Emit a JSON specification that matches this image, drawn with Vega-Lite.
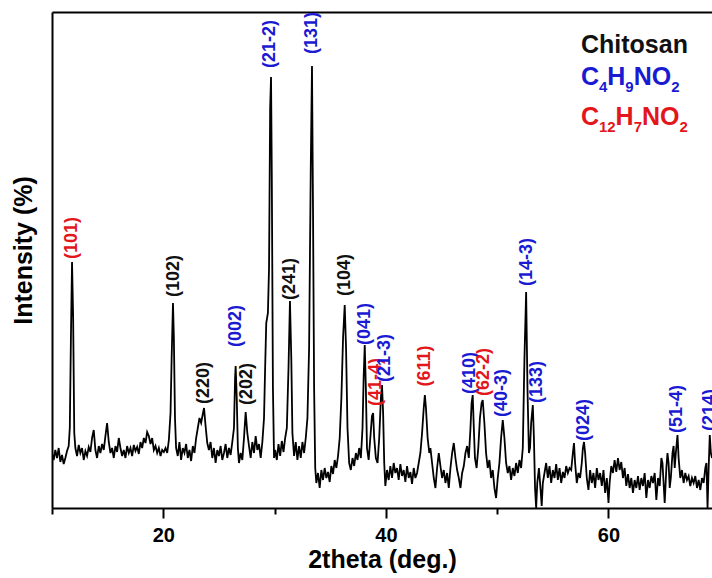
{
  "$schema": "https://vega.github.io/schema/vega-lite/v6.json",
  "width": 660,
  "height": 496,
  "autosize": {"type": "none"},
  "padding": {"left": 52, "top": 12, "right": 0, "bottom": 70},
  "background": "white",
  "config": {
    "view": {"stroke": null},
    "font": "Liberation Sans",
    "axis": {"domainColor": "black", "domainWidth": 2, "tickColor": "black", "tickWidth": 2, "labelColor": "black", "titleColor": "black", "labelFont": "Liberation Sans", "titleFont": "Liberation Sans", "labelFontWeight": "bold", "titleFontWeight": "bold", "grid": false}
  },
  "datasets": {
    "xrd": [
      {"t":10.0,"i":55},{"t":10.15,"i":48},{"t":10.3,"i":58},{"t":10.45,"i":50},{"t":10.6,"i":60},{"t":10.75,"i":46},{"t":10.9,"i":53},{"t":11.05,"i":44},{"t":11.2,"i":50},{"t":11.35,"i":57},{"t":11.5,"i":62},{"t":11.6,"i":80},{"t":11.7,"i":170},{"t":11.8,"i":246},{"t":11.9,"i":190},{"t":12.0,"i":75},{"t":12.1,"i":60},
      {"t":12.25,"i":52},{"t":12.4,"i":63},{"t":12.55,"i":55},{"t":12.7,"i":60},{"t":12.85,"i":48},{"t":13.0,"i":57},{"t":13.15,"i":52},{"t":13.3,"i":61},{"t":13.45,"i":56},{"t":13.6,"i":70},{"t":13.75,"i":78},{"t":13.9,"i":58},{"t":14.05,"i":50},{"t":14.2,"i":62},{"t":14.35,"i":55},{"t":14.5,"i":64},{"t":14.65,"i":58},{"t":14.8,"i":72},{"t":14.95,"i":85},{"t":15.1,"i":66},{"t":15.25,"i":55},{"t":15.4,"i":60},{"t":15.55,"i":50},{"t":15.7,"i":62},{"t":15.85,"i":56},{"t":16.0,"i":70},{"t":16.15,"i":60},{"t":16.3,"i":52},{"t":16.45,"i":58},{"t":16.6,"i":50},{"t":16.75,"i":62},{"t":16.9,"i":55},{"t":17.05,"i":60},{"t":17.2,"i":52},{"t":17.35,"i":63},{"t":17.5,"i":57},{"t":17.65,"i":61},{"t":17.8,"i":54},{"t":17.95,"i":66},{"t":18.1,"i":60},{"t":18.25,"i":70},{"t":18.4,"i":65},{"t":18.55,"i":76},{"t":18.7,"i":72},{"t":18.85,"i":64},{"t":19.0,"i":70},{"t":19.15,"i":58},{"t":19.3,"i":62},{"t":19.45,"i":55},{"t":19.6,"i":60},{"t":19.75,"i":52},{"t":19.9,"i":58},{"t":20.05,"i":56},{"t":20.2,"i":60},{"t":20.35,"i":55},{"t":20.5,"i":68},{"t":20.65,"i":95},{"t":20.75,"i":150},{"t":20.87,"i":205},{"t":20.95,"i":170},{"t":21.05,"i":90},{"t":21.15,"i":60},
      {"t":21.3,"i":52},{"t":21.45,"i":66},{"t":21.6,"i":48},{"t":21.75,"i":60},{"t":21.9,"i":55},{"t":22.05,"i":64},{"t":22.2,"i":50},{"t":22.35,"i":58},{"t":22.5,"i":47},{"t":22.65,"i":62},{"t":22.8,"i":55},{"t":22.95,"i":70},{"t":23.1,"i":80},{"t":23.25,"i":90},{"t":23.4,"i":85},{"t":23.55,"i":94},{"t":23.66,"i":100},{"t":23.8,"i":82},{"t":23.95,"i":65},{"t":24.1,"i":58},{"t":24.25,"i":66},{"t":24.4,"i":50},{"t":24.55,"i":60},{"t":24.7,"i":45},{"t":24.85,"i":58},{"t":25.0,"i":52},{"t":25.15,"i":62},{"t":25.3,"i":48},{"t":25.45,"i":55},{"t":25.6,"i":64},{"t":25.75,"i":50},{"t":25.9,"i":60},{"t":26.05,"i":53},{"t":26.2,"i":66},{"t":26.35,"i":80},{"t":26.45,"i":130},{"t":26.5,"i":142},{"t":26.6,"i":110},{"t":26.7,"i":60},{"t":26.8,"i":45},{"t":26.95,"i":55},{"t":27.1,"i":48},{"t":27.25,"i":70},{"t":27.4,"i":96},{"t":27.55,"i":75},{"t":27.7,"i":62},{"t":27.85,"i":50},{"t":28.0,"i":66},{"t":28.15,"i":55},{"t":28.3,"i":72},{"t":28.45,"i":58},{"t":28.6,"i":64},{"t":28.75,"i":50},{"t":28.9,"i":66},{"t":29.05,"i":90},{"t":29.15,"i":140},{"t":29.25,"i":185},{"t":29.4,"i":195},{"t":29.5,"i":240},{"t":29.6,"i":400},{"t":29.68,"i":431},{"t":29.75,"i":330},{"t":29.85,"i":120},{"t":29.95,"i":50},
      {"t":30.05,"i":58},{"t":30.2,"i":48},{"t":30.35,"i":64},{"t":30.5,"i":52},{"t":30.65,"i":67},{"t":30.8,"i":56},{"t":30.95,"i":70},{"t":31.1,"i":80},{"t":31.25,"i":140},{"t":31.38,"i":207},{"t":31.5,"i":150},{"t":31.6,"i":75},{"t":31.75,"i":52},{"t":31.9,"i":66},{"t":32.05,"i":48},{"t":32.2,"i":62},{"t":32.35,"i":50},{"t":32.5,"i":66},{"t":32.65,"i":55},{"t":32.8,"i":70},{"t":32.95,"i":90},{"t":33.1,"i":160},{"t":33.25,"i":340},{"t":33.36,"i":442},{"t":33.45,"i":300},{"t":33.55,"i":120},{"t":33.65,"i":40},{"t":33.75,"i":25},{"t":33.9,"i":35},{"t":34.05,"i":20},{"t":34.2,"i":38},{"t":34.35,"i":28},{"t":34.5,"i":40},{"t":34.65,"i":30},{"t":34.8,"i":36},{"t":34.95,"i":26},{"t":35.1,"i":42},{"t":35.25,"i":34},{"t":35.4,"i":48},{"t":35.55,"i":40},{"t":35.7,"i":52},{"t":35.85,"i":70},{"t":36.0,"i":110},{"t":36.15,"i":170},{"t":36.3,"i":203},{"t":36.42,"i":160},{"t":36.55,"i":80},{"t":36.7,"i":45},{"t":36.85,"i":38},{"t":37.0,"i":50},{"t":37.15,"i":42},{"t":37.3,"i":55},{"t":37.45,"i":48},{"t":37.6,"i":60},{"t":37.75,"i":50},{"t":37.9,"i":80},{"t":38.0,"i":130},{"t":38.1,"i":163},{"t":38.2,"i":120},{"t":38.3,"i":60},{"t":38.45,"i":48},{"t":38.6,"i":70},{"t":38.75,"i":92},{"t":38.85,"i":95},{"t":38.95,"i":70},{"t":39.1,"i":50},{"t":39.25,"i":45},{"t":39.4,"i":70},{"t":39.55,"i":110},{"t":39.65,"i":123},{"t":39.75,"i":95},{"t":39.85,"i":45},{"t":39.95,"i":22},
      {"t":40.1,"i":38},{"t":40.25,"i":28},{"t":40.4,"i":42},{"t":40.55,"i":30},{"t":40.7,"i":45},{"t":40.85,"i":35},{"t":41.0,"i":40},{"t":41.15,"i":28},{"t":41.3,"i":44},{"t":41.45,"i":32},{"t":41.6,"i":38},{"t":41.75,"i":26},{"t":41.9,"i":42},{"t":42.05,"i":30},{"t":42.2,"i":36},{"t":42.35,"i":24},{"t":42.5,"i":40},{"t":42.65,"i":30},{"t":42.8,"i":35},{"t":42.95,"i":45},{"t":43.1,"i":55},{"t":43.25,"i":75},{"t":43.4,"i":100},{"t":43.5,"i":113},{"t":43.6,"i":100},{"t":43.75,"i":70},{"t":43.9,"i":55},{"t":44.0,"i":60},{"t":44.15,"i":45},{"t":44.3,"i":30},{"t":44.45,"i":20},{"t":44.6,"i":40},{"t":44.75,"i":55},{"t":44.9,"i":42},{"t":45.05,"i":30},{"t":45.2,"i":38},{"t":45.35,"i":25},{"t":45.5,"i":35},{"t":45.65,"i":20},{"t":45.8,"i":40},{"t":45.95,"i":55},{"t":46.1,"i":65},{"t":46.25,"i":50},{"t":46.4,"i":38},{"t":46.55,"i":30},{"t":46.7,"i":20},{"t":46.85,"i":35},{"t":47.0,"i":42},{"t":47.15,"i":55},{"t":47.3,"i":62},{"t":47.45,"i":50},{"t":47.6,"i":80},{"t":47.7,"i":105},{"t":47.8,"i":113},{"t":47.9,"i":80},{"t":48.0,"i":50},{"t":48.15,"i":40},{"t":48.3,"i":60},{"t":48.45,"i":90},{"t":48.6,"i":105},{"t":48.7,"i":108},{"t":48.85,"i":85},{"t":49.0,"i":55},{"t":49.15,"i":40},{"t":49.3,"i":48},{"t":49.45,"i":30},{"t":49.6,"i":38},{"t":49.75,"i":20},{"t":49.9,"i":10},
      {"t":50.05,"i":30},{"t":50.2,"i":45},{"t":50.35,"i":70},{"t":50.5,"i":88},{"t":50.65,"i":70},{"t":50.8,"i":45},{"t":50.95,"i":35},{"t":51.1,"i":42},{"t":51.25,"i":28},{"t":51.4,"i":40},{"t":51.55,"i":32},{"t":51.7,"i":45},{"t":51.85,"i":35},{"t":52.0,"i":48},{"t":52.15,"i":40},{"t":52.3,"i":60},{"t":52.45,"i":150},{"t":52.6,"i":216},{"t":52.72,"i":120},{"t":52.85,"i":55},{"t":52.95,"i":60},{"t":53.05,"i":85},{"t":53.2,"i":103},{"t":53.3,"i":70},{"t":53.4,"i":20},{"t":53.5,"i":0},{"t":53.6,"i":25},{"t":53.75,"i":40},{"t":53.9,"i":18},{"t":54.0,"i":2},{"t":54.1,"i":25},{"t":54.25,"i":35},{"t":54.4,"i":45},{"t":54.55,"i":30},{"t":54.7,"i":42},{"t":54.85,"i":25},{"t":55.0,"i":38},{"t":55.15,"i":30},{"t":55.3,"i":44},{"t":55.45,"i":28},{"t":55.6,"i":40},{"t":55.75,"i":25},{"t":55.9,"i":36},{"t":56.05,"i":30},{"t":56.2,"i":42},{"t":56.35,"i":35},{"t":56.5,"i":40},{"t":56.65,"i":38},{"t":56.8,"i":55},{"t":56.9,"i":65},{"t":57.0,"i":45},{"t":57.15,"i":25},{"t":57.3,"i":35},{"t":57.45,"i":30},{"t":57.6,"i":45},{"t":57.7,"i":60},{"t":57.8,"i":66},{"t":57.9,"i":55},{"t":58.05,"i":30},{"t":58.2,"i":18},{"t":58.35,"i":38},{"t":58.5,"i":25},{"t":58.65,"i":35},{"t":58.8,"i":20},{"t":58.95,"i":40},{"t":59.1,"i":28},{"t":59.25,"i":35},{"t":59.4,"i":22},{"t":59.55,"i":38},{"t":59.7,"i":15},{"t":59.85,"i":30},
      {"t":60.0,"i":5},{"t":60.1,"i":25},{"t":60.25,"i":42},{"t":60.4,"i":35},{"t":60.55,"i":48},{"t":60.7,"i":36},{"t":60.85,"i":50},{"t":61.0,"i":38},{"t":61.15,"i":46},{"t":61.3,"i":30},{"t":61.45,"i":40},{"t":61.6,"i":22},{"t":61.75,"i":34},{"t":61.9,"i":20},{"t":62.05,"i":30},{"t":62.2,"i":15},{"t":62.35,"i":28},{"t":62.5,"i":20},{"t":62.65,"i":32},{"t":62.8,"i":18},{"t":62.95,"i":30},{"t":63.1,"i":22},{"t":63.25,"i":35},{"t":63.4,"i":10},{"t":63.55,"i":28},{"t":63.7,"i":20},{"t":63.85,"i":32},{"t":64.0,"i":25},{"t":64.15,"i":35},{"t":64.3,"i":8},{"t":64.45,"i":30},{"t":64.6,"i":22},{"t":64.75,"i":50},{"t":64.85,"i":45},{"t":64.95,"i":25},{"t":65.05,"i":5},{"t":65.2,"i":40},{"t":65.3,"i":55},{"t":65.4,"i":45},{"t":65.5,"i":20},{"t":65.6,"i":30},{"t":65.75,"i":55},{"t":65.85,"i":62},{"t":65.95,"i":40},{"t":66.05,"i":55},{"t":66.2,"i":73},{"t":66.3,"i":50},{"t":66.45,"i":30},{"t":66.6,"i":38},{"t":66.75,"i":25},{"t":66.9,"i":35},{"t":67.05,"i":28},{"t":67.2,"i":32},{"t":67.35,"i":22},{"t":67.5,"i":30},{"t":67.65,"i":25},{"t":67.8,"i":32},{"t":67.95,"i":20},{"t":68.1,"i":28},{"t":68.25,"i":18},{"t":68.4,"i":30},{"t":68.55,"i":25},{"t":68.7,"i":40},{"t":68.8,"i":45},{"t":68.9,"i":0},{"t":69.0,"i":40},{"t":69.1,"i":73},{"t":69.2,"i":55},{"t":69.3,"i":50}
    ],
    "peaks": [
      {"t":11.8,"i":270,"label":"(101)","phase":"C12H7NO2"},
      {"t":20.96,"i":232,"label":"(102)","phase":"Chitosan"},
      {"t":23.66,"i":125,"label":"(220)","phase":"Chitosan"},
      {"t":26.53,"i":182,"label":"(002)","phase":"C4H9NO2"},
      {"t":27.52,"i":124,"label":"(202)","phase":"Chitosan"},
      {"t":29.59,"i":464,"label":"(21-2)","phase":"C4H9NO2"},
      {"t":31.38,"i":229,"label":"(241)","phase":"Chitosan"},
      {"t":33.36,"i":475,"label":"(131)","phase":"C4H9NO2"},
      {"t":36.33,"i":233,"label":"(104)","phase":"Chitosan"},
      {"t":38.12,"i":184,"label":"(041)","phase":"C4H9NO2"},
      {"t":39.11,"i":126,"label":"(41-4)","phase":"C12H7NO2"},
      {"t":39.92,"i":150,"label":"(21-3)","phase":"C4H9NO2"},
      {"t":43.51,"i":142,"label":"(611)","phase":"C12H7NO2"},
      {"t":47.56,"i":135,"label":"(410)","phase":"C4H9NO2"},
      {"t":48.81,"i":136,"label":"(62-2)","phase":"C12H7NO2"},
      {"t":50.43,"i":115,"label":"(40-3)","phase":"C4H9NO2"},
      {"t":52.68,"i":246,"label":"(14-3)","phase":"C4H9NO2"},
      {"t":53.58,"i":126,"label":"(133)","phase":"C4H9NO2"},
      {"t":57.8,"i":88,"label":"(024)","phase":"C4H9NO2"},
      {"t":66.15,"i":99,"label":"(51-4)","phase":"C4H9NO2"},
      {"t":69.12,"i":98,"label":"(214)","phase":"C4H9NO2"}
    ],
    "legend": [
      {"t":57.53,"i":455,"label":"Chitosan","phase":"Chitosan","part":"name"},
      {"t":57.53,"i":423,"label":"C","phase":"C4H9NO2","part":"main"},
      {"t":59.15,"i":416,"label":"4","phase":"C4H9NO2","part":"sub"},
      {"t":59.89,"i":423,"label":"H","phase":"C4H9NO2","part":"main"},
      {"t":61.51,"i":416,"label":"9","phase":"C4H9NO2","part":"sub"},
      {"t":62.26,"i":423,"label":"NO","phase":"C4H9NO2","part":"main"},
      {"t":65.63,"i":416,"label":"2","phase":"C4H9NO2","part":"sub"},
      {"t":57.53,"i":383,"label":"C","phase":"C12H7NO2","part":"main"},
      {"t":59.15,"i":376,"label":"12","phase":"C12H7NO2","part":"sub"},
      {"t":60.64,"i":383,"label":"H","phase":"C12H7NO2","part":"main"},
      {"t":62.26,"i":376,"label":"7","phase":"C12H7NO2","part":"sub"},
      {"t":63.0,"i":383,"label":"NO","phase":"C12H7NO2","part":"main"},
      {"t":66.37,"i":376,"label":"2","phase":"C12H7NO2","part":"sub"}
    ]
  },
  "resolve": {"axis": {"x": "independent"}},
  "layer": [
    {
      "data": {"name": "xrd"},
      "mark": {"type": "line", "color": "black", "strokeWidth": 1.8, "clip": true, "interpolate": "linear"},
      "encoding": {
        "x": {"field": "t", "type": "quantitative", "scale": {"domain": [10, 69.3], "nice": false, "zero": false},
          "axis": {"title": "2theta (deg.)", "orient": "bottom", "values": [10, 20, 30, 40, 50, 60],
            "labelExpr": "datum.value % 20 === 0 ? datum.label : ''", "labelFontSize": 20, "labelPadding": 7,
            "tickSize": {"condition": {"test": "datum.value % 20 === 0", "value": 10}, "value": 6},
            "titleFontSize": 25, "titlePadding": 2, "labelFlush": false, "labelOverlap": false}},
        "y": {"field": "i", "type": "quantitative", "scale": {"domain": [0, 496], "nice": false},
          "axis": {"title": "Intensity (%)", "ticks": false, "labels": false, "titleFontSize": 25, "titlePadding": 16, "titleY": 238}}
      }
    },
    {
      "data": {"name": "peaks"},
      "mark": {"type": "text", "angle": 270, "align": "center", "baseline": "middle", "fontSize": 18, "fontWeight": "bold", "font": "Liberation Sans"},
      "encoding": {
        "x": {"field": "t", "type": "quantitative", "axis": {"orient": "top", "ticks": false, "labels": false, "title": null, "domainWidth": 2}},
        "y": {"field": "i", "type": "quantitative"},
        "text": {"field": "label"},
        "color": {"field": "phase", "type": "nominal", "legend": null, "scale": {"domain": ["Chitosan", "C4H9NO2", "C12H7NO2"], "range": ["#111111", "#1a1ad2", "#e3161b"]}}
      }
    },
    {
      "data": {"name": "legend"},
      "mark": {"type": "text", "align": "left", "baseline": "alphabetic", "fontWeight": "bold", "font": "Liberation Sans"},
      "encoding": {
        "x": {"field": "t", "type": "quantitative", "axis": null},
        "y": {"field": "i", "type": "quantitative"},
        "text": {"field": "label"},
        "size": {"field": "part", "type": "nominal", "legend": null, "scale": {"type": "ordinal", "domain": ["name", "main", "sub"], "range": [25, 25, 15]}},
        "color": {"field": "phase", "type": "nominal", "legend": null}
      }
    }
  ]
}
